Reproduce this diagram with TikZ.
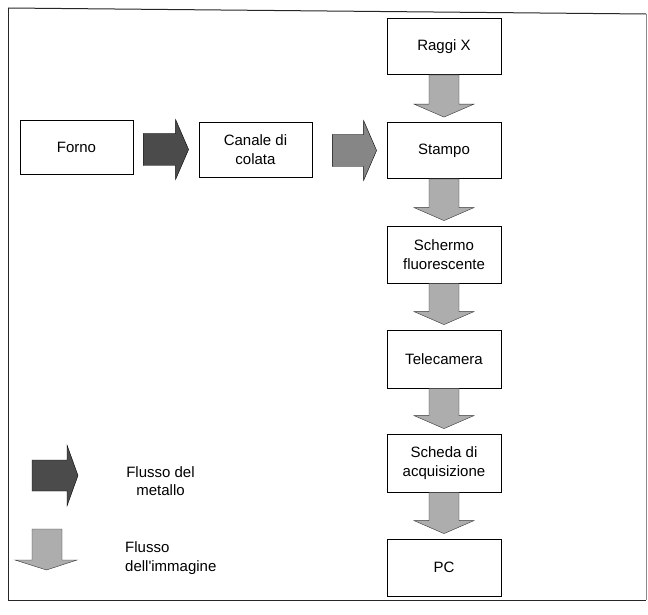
\documentclass[tikz,border=0pt]{standalone}
\usepackage{fontspec}
\setmainfont{Liberation Sans}
\usetikzlibrary{calc}
\definecolor{metaldark}{HTML}{4B4B4B}
\definecolor{metalmid}{HTML}{868686}
\definecolor{imagelight}{HTML}{ADADAD}
\tikzset{
  box/.style={draw=black, line width=0.8pt, fill=white, minimum width=114pt,
    minimum height=56pt, inner sep=0pt, align=center,
    font=\fontsize{15}{18.5}\selectfont},
  legtext/.style={inner sep=0pt, font=\fontsize{15}{18.5}\selectfont},
  darkflow/.style={fill=metaldark, draw=black, line width=0.4pt, line join=miter},
  midflow/.style={fill=metalmid, draw=black, line width=0.4pt, line join=miter},
  imgflow/.style={fill=imagelight, draw=black!80, line width=0.4pt, line join=miter},
  framestyle/.style={draw=black!85, line width=1pt},
}
% vertical block arrow from bottom of #1 to top of #2
\newcommand{\vflowarrow}[2]{%
  \filldraw[imgflow] ($(#1.south)+(-15,0)$) -- ($(#2.north)+(-15,-18)$)
    -- ($(#2.north)+(-30,-18)$) -- ($(#2.north)+(0,-5)$)
    -- ($(#2.north)+(30,-18)$) -- ($(#2.north)+(15,-18)$)
    -- ($(#1.south)+(15,0)$) -- cycle;}
% horizontal block arrow from #1 to #2, gap #3, style #4
\newcommand{\hflowarrow}[4]{%
  \filldraw[#4] ($(#1.east |- #2.west)+(#3,-16)$) -- ($(#2.west)+(-23,-16)$)
    -- ($(#2.west)+(-23,-30)$) -- ($(#2.west)+(-10,0)$)
    -- ($(#2.west)+(-23,30)$) -- ($(#2.west)+(-23,16)$)
    -- ($(#1.east |- #2.west)+(#3,16)$) -- cycle;}
\begin{document}
\begin{tikzpicture}[x=1pt, y=-1pt]
\useasboundingbox (0,0) rectangle (648,615);
% outer frame
\draw[framestyle] (8,8) -- (646,14);
\draw[framestyle] (8,8) -- (8,600) -- (646,600);
\draw[draw=black!45, line width=0.8pt] (646,14) -- (646,600);

% main column
\node[box] (raggi) at (444,46.5) {Raggi X};
\node[box] (stampo) at (444,150.5) {Stampo};
\node[box, minimum height=57pt] (schermo) at (444,254.5) {Schermo\\fluorescente};
\node[box, minimum height=58pt] (tele) at (444,359) {Telecamera};
\node[box, minimum height=58pt] (scheda) at (444,463) {Scheda di\\acquisizione};
\node[box, minimum height=57pt] (pc) at (444,567.5) {PC};

% metal row
\node[box, minimum width=113pt, minimum height=54pt] (forno) at (76.5,147) {Forno};
\node[box, minimum width=113pt, minimum height=55pt] (canale) at (255.5,149.5) {Canale di\\colata};

% connectors
\hflowarrow{forno}{canale}{10}{darkflow}
\hflowarrow{canale}{stampo}{20}{midflow}
\vflowarrow{raggi}{stampo}
\vflowarrow{stampo}{schermo}
\vflowarrow{schermo}{tele}
\vflowarrow{tele}{scheda}
\vflowarrow{scheda}{pc}

% legend
\filldraw[darkflow] (32,460) -- (67,460) -- (67,445) -- (78,475.5) -- (67,506)
  -- (67,491) -- (32,491) -- cycle;
\node[legtext, align=center] (legmetal) at (160.5,481) {Flusso del\\metallo};
\filldraw[imgflow] (32,529) -- (32,560) -- (15,560) -- (46.5,570) -- (77,560)
  -- (62,560) -- (62,529) -- cycle;
\node[legtext, align=left, anchor=west] (legimage) at (125,558)
  {Flusso\\dell\textquotesingle immagine};
\end{tikzpicture}
\end{document}
